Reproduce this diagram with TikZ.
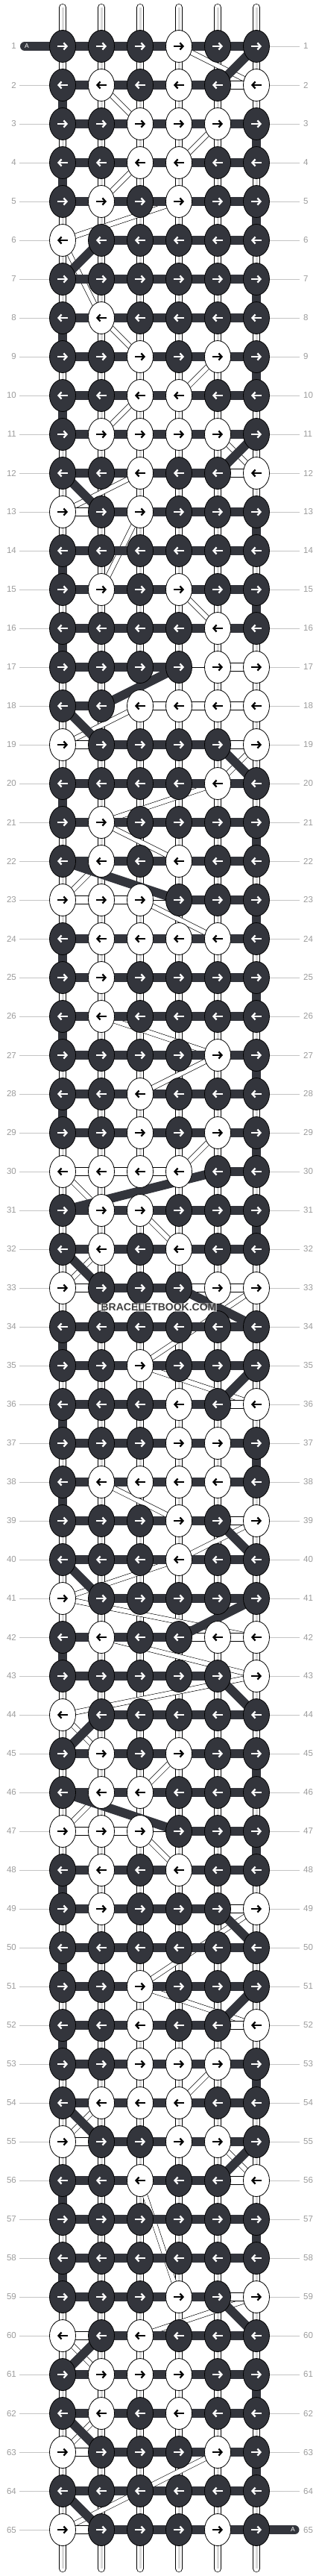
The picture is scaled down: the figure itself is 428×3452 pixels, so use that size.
\documentclass[tikz,border=0pt]{standalone}
\usepackage{fontspec}
\setmainfont{Liberation Sans}
\usetikzlibrary{shapes.geometric,arrows.meta}

\definecolor{knotdark}{HTML}{33353C}
\definecolor{rowgrey}{HTML}{9B9B9B}
\definecolor{linegrey}{HTML}{C4C4C4}

% row / first dark knot / last dark knot / knot colours
\newcommand{\knotrows}{1/1/6/{d,d,d,w,d,d}, 2/1/5/{d,w,d,w,d,w}, 3/1/6/{d,d,w,w,w,d},
  4/1/6/{d,d,w,w,d,d}, 5/1/6/{d,w,d,w,d,d}, 6/2/6/{w,d,d,d,d,d}, 7/1/6/{d,d,d,d,d,d},
  8/1/6/{d,w,d,d,d,d}, 9/1/6/{d,d,w,d,w,d}, 10/1/6/{d,d,w,w,d,d}, 11/1/6/{d,w,w,w,w,d},
  12/1/5/{d,d,w,d,d,w}, 13/2/6/{w,d,w,d,d,d}, 14/1/6/{d,d,d,d,d,d}, 15/1/6/{d,w,d,w,d,d},
  16/1/6/{d,d,d,d,w,d}, 17/1/4/{d,d,d,d,w,w}, 18/1/2/{d,d,w,w,w,w}, 19/2/5/{w,d,d,d,d,w},
  20/1/6/{d,d,d,d,w,d}, 21/1/6/{d,w,d,d,d,d}, 22/1/6/{d,w,d,w,d,d}, 23/4/6/{w,w,w,d,d,d},
  24/1/6/{d,w,w,w,w,d}, 25/1/6/{d,w,d,d,d,d}, 26/1/6/{d,w,d,d,d,d}, 27/1/6/{d,d,d,d,w,d},
  28/1/6/{d,d,w,d,d,d}, 29/1/6/{d,d,w,d,w,d}, 30/5/6/{w,w,w,w,d,d}, 31/1/6/{d,w,w,d,d,d},
  32/1/6/{d,w,d,w,d,d}, 33/2/4/{w,d,d,d,w,w}, 34/1/6/{d,d,d,d,d,d}, 35/1/6/{d,d,w,d,d,d},
  36/1/5/{d,d,d,w,d,w}, 37/1/6/{d,d,d,w,w,d}, 38/1/6/{d,w,w,w,w,d}, 39/1/5/{d,d,d,w,d,w},
  40/1/6/{d,d,d,w,d,d}, 41/2/6/{w,d,d,d,d,d}, 42/1/4/{d,w,d,d,w,w}, 43/1/5/{d,d,d,d,d,w},
  44/2/6/{w,d,d,d,d,d}, 45/1/6/{d,w,d,w,d,d}, 46/1/6/{d,w,w,d,d,d}, 47/4/6/{w,w,w,d,d,d},
  48/1/6/{d,w,d,w,d,d}, 49/1/5/{d,w,d,d,d,w}, 50/1/6/{d,d,d,d,d,d}, 51/1/6/{d,d,w,d,d,d},
  52/1/5/{d,d,w,d,d,w}, 53/1/6/{d,d,w,w,w,d}, 54/1/6/{d,w,w,w,d,d}, 55/2/6/{w,d,d,w,w,d},
  56/1/5/{d,d,w,d,d,w}, 57/1/6/{d,d,d,d,d,d}, 58/1/6/{d,d,d,d,d,d}, 59/1/5/{d,d,d,w,d,w},
  60/2/6/{w,d,w,d,d,d}, 61/1/6/{d,w,w,w,d,d}, 62/1/6/{d,w,d,w,d,d}, 63/2/6/{w,d,d,d,w,d},
  64/1/6/{d,d,d,d,d,d}, 65/2/6/{w,d,d,d,w,d}}

\tikzset{
  knot d/.style={ellipse, draw=black, line width=0.8pt, fill=knotdark,
    minimum width=35pt, minimum height=43pt, inner sep=0pt},
  knot w/.style={knot d, fill=white},
  arr d/.style={white, line width=2.3pt, -{Straight Barb[length=4pt,width=9pt]}},
  arr w/.style={arr d, black},
  thread/.style={draw=black, line width=0.7pt, double=white, double distance=8.6pt, line cap=round},
  floatstrip/.style={draw=black, line width=0.6pt, double=white, double distance=6pt},
  whitebox/.style={draw=black, line width=0.7pt, double=white, double distance=10.4pt},
  darkbar/.style={knotdark, line width=12pt},
  rownum/.style={text=rowgrey, inner sep=0pt, font=\fontsize{11.5}{12}\selectfont},
  rowline/.style={linegrey, line width=0.9pt},
}

\begin{document}
\begin{tikzpicture}[x=1pt, y=-1pt]
  \useasboundingbox (0,0) rectangle (428,3452);

  % knot positions
  \foreach \r in {1,...,65}
    \foreach \c in {1,...,6}
      \coordinate (p-\r-\c) at ({32+52*\c}, {10+52*\r});

  % the vertical threads
  \foreach \c in {1,...,6} {
    \coordinate (top-\c) at ({32+52*\c}, 10);
    \coordinate (bot-\c) at ({32+52*\c}, 3442);
    \draw[thread] (top-\c) -- (bot-\c);
    \draw[black!15, line width=3pt] (top-\c) -- (bot-\c);
  }

  % threads floating behind the knots
  \foreach \a/\b in {1-4/2-6, 2-2/3-3, 3-5/4-4, 4-3/5-2, 5-4/6-1, 6-1/8-2, 8-2/9-3,
      9-5/10-4, 10-3/11-2, 11-5/12-6, 12-3/13-1, 13-3/15-2, 15-4/16-5, 18-3/19-1,
      19-6/20-5, 20-5/21-2, 21-2/22-4, 22-2/23-1, 23-3/24-5, 26-2/27-5, 27-5/28-3,
      29-5/30-4, 30-1/31-2, 31-3/32-4, 32-2/33-1, 33-6/35-3, 35-3/36-6, 38-2/39-4,
      39-6/40-4, 40-4/41-1, 41-1/42-6, 42-2/43-6, 43-6/44-1, 44-1/45-2, 45-4/46-3,
      46-2/47-1, 47-3/48-4, 49-6/51-3, 51-3/52-6, 53-5/54-4, 54-2/55-1, 55-5/56-6,
      56-3/59-4, 59-6/60-3, 60-1/61-2, 62-2/63-1, 63-5/65-1}
    \draw[floatstrip] (p-\a) -- (p-\b);

  % light parts of the rows
  \foreach \r/\a/\b in {2/5/6, 12/5/6, 13/1/2, 17/5/6, 18/3/4, 18/4/5, 18/5/6, 19/1/2,
      19/5/6, 23/1/2, 23/2/3, 30/1/2, 30/2/3, 30/3/4, 33/1/2, 33/4/5, 33/5/6, 36/5/6,
      39/5/6, 42/4/5, 42/5/6, 47/1/2, 47/2/3, 49/5/6, 52/5/6, 55/1/2, 56/5/6, 59/5/6,
      60/1/2, 63/1/2, 65/1/2}
    \draw[whitebox] (p-\r-\a) -- (p-\r-\b);
  \foreach \r/\a/\b in {17/4/5, 23/3/4, 47/3/4}
    \draw[line width=0.6pt] (p-\r-\a) -- (p-\r-\b);

  % dark thread along each row
  \foreach \r/\lo/\hi/\row in \knotrows
    \draw[darkbar] (p-\r-\lo) -- (p-\r-\hi);

  % dark thread going to the next row
  \foreach \a/\b in {1-6/2-5, 2-1/3-1, 3-6/4-6, 4-1/5-1, 5-6/6-6, 6-2/7-1, 7-6/8-6,
      8-1/9-1, 9-6/10-6, 10-1/11-1, 11-6/12-5, 12-1/13-2, 13-6/14-6, 14-1/15-1,
      15-6/16-6, 16-1/17-1, 17-4/18-2, 18-1/19-2, 19-5/20-6, 20-1/21-1, 21-6/22-6,
      22-1/23-4, 23-6/24-6, 24-1/25-1, 25-6/26-6, 26-1/27-1, 27-6/28-6, 28-1/29-1,
      29-6/30-6, 30-5/31-1, 31-6/32-6, 32-1/33-2, 33-4/34-6, 34-1/35-1, 35-6/36-5,
      36-1/37-1, 37-6/38-6, 38-1/39-1, 39-5/40-6, 40-1/41-2, 41-6/42-4, 42-1/43-1,
      43-5/44-6, 44-2/45-1, 45-6/46-6, 46-1/47-4, 47-6/48-6, 48-1/49-1, 49-5/50-6,
      50-1/51-1, 51-6/52-5, 52-1/53-1, 53-6/54-6, 54-1/55-2, 55-6/56-5, 56-1/57-1,
      57-6/58-6, 58-1/59-1, 59-5/60-6, 60-2/61-1, 61-6/62-6, 62-1/63-2, 63-6/64-6,
      64-1/65-2}
    \draw[darkbar] (p-\a) -- (p-\b);

  % loose ends of string A
  \coordinate (tail-in) at (33,62);
  \coordinate (tail-out) at (395.5,3390);
  \draw[darkbar, line cap=round] (tail-in) -- (p-1-1);
  \draw[darkbar, line cap=round] (p-65-6) -- (tail-out);
  \node[white, font=\fontsize{8.5}{9}\selectfont, inner sep=0pt] (a-in) at (36,62) {A};
  \node[white, font=\fontsize{8.5}{9}\selectfont, inner sep=0pt] (a-out) at (393,3390) {A};

  % the knots
  \foreach \r/\lo/\hi/\row in \knotrows
    \foreach \k [count=\c] in \row {
      \node[knot \k] (k-\r-\c) at (p-\r-\c) {};
      \ifodd\r\relax
        \draw[arr \k] ([xshift=-7pt]k-\r-\c.center) -- ([xshift=7pt]k-\r-\c.center);
      \else
        \draw[arr \k] ([xshift=7pt]k-\r-\c.center) -- ([xshift=-7pt]k-\r-\c.center);
      \fi
    }

  % row numbers
  \foreach \r in {1,...,65} {
    \node[rownum, anchor=east] (nl-\r) at (22, {10+52*\r}) {\r};
    \node[rownum, anchor=west] (nr-\r) at (407, {10+52*\r}) {\r};
  }
  \foreach \r in {2,...,65}
    \draw[rowline, shorten <=4pt] (nl-\r.east) -- (k-\r-1.west);
  \foreach \r in {1,...,64}
    \draw[rowline, shorten >=5pt] (k-\r-6.east) -- (nr-\r.west);

  \node[fill=white, fill opacity=0.55, text opacity=1, text=black!75, inner sep=0.8pt,
    font=\bfseries\fontsize{14}{14}\selectfont] (mark) at (213,1752) {BRACELETBOOK.COM};
\end{tikzpicture}
\end{document}
